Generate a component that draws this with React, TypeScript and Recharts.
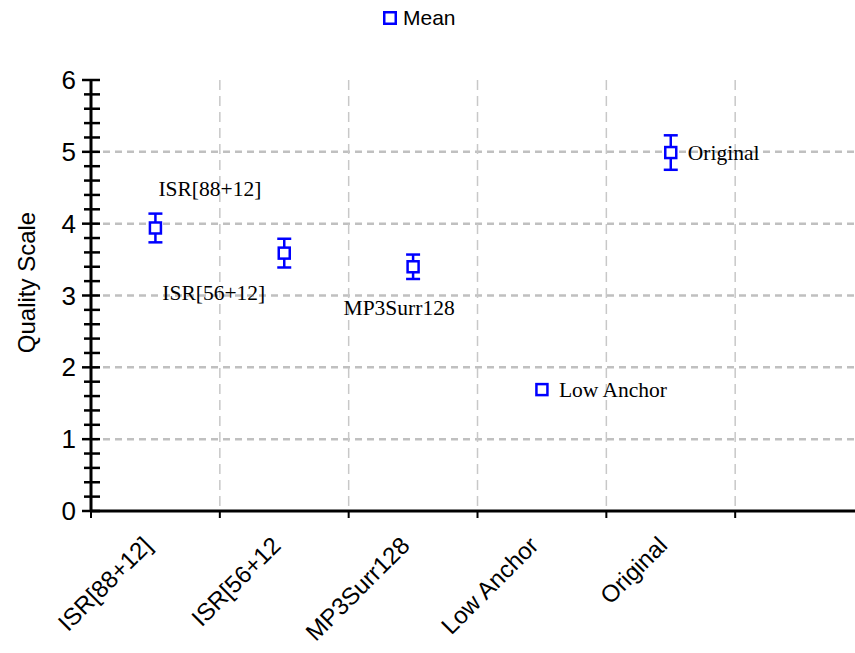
import React from 'react';
import { ScatterChart, Scatter, XAxis, YAxis, CartesianGrid, ErrorBar } from 'recharts';

const categories = ['ISR[88+12]', 'ISR[56+12', 'MP3Surr128', 'Low Anchor', 'Original'];
const pointLabels = ['ISR[88+12]', 'ISR[56+12]', 'MP3Surr128', 'Low Anchor', 'Original'];
const means = [3.94, 3.59, 3.4, 1.69, 4.99];
const errors = [0.2, 0.2, 0.17, 0, 0.24];
const labelPlacement = ['above', 'belowLeft', 'below', 'right', 'right'];

// major ticks on integers, minor every 0.2
const yTicks = [
  0, 0.2, 0.4, 0.6, 0.8, 1, 1.2, 1.4, 1.6, 1.8, 2, 2.2, 2.4, 2.6, 2.8, 3,
  3.2, 3.4, 3.6, 3.8, 4, 4.2, 4.4, 4.6, 4.8, 5, 5.2, 5.4, 5.6, 5.8, 6,
];
// tick marks on integers, category names at the half positions
const xTicks = [0, 0.5, 1, 1.5, 2, 2.5, 3, 3.5, 4, 4.5, 5];
const gridValues = [1, 2, 3, 4, 5];

const BLUE = '#0000ff';
const SANS = 'Arial, "Liberation Sans", sans-serif';
const SERIF = '"Times New Roman", "Liberation Serif", serif';

const data = categories.map((name, i) => ({
  name,
  label: pointLabels[i],
  place: labelPlacement[i],
  pos: i + 0.5,
  mean: means[i],
  err: errors[i],
}));

const labelOffsets: Record<string, { dx: number; dy: number; anchor: 'start' | 'middle' | 'end' }> = {
  above: { dx: 3, dy: -32, anchor: 'start' },
  belowLeft: { dx: -19, dy: 47, anchor: 'end' },
  below: { dx: -14, dy: 48, anchor: 'middle' },
  right: { dx: 17, dy: 7, anchor: 'start' },
};

const MeanBox = (props: any) => {
  const { cx, cy, payload } = props;
  const o = labelOffsets[payload.place];
  return (
    <g>
      <rect x={cx - 5.5} y={cy - 5.5} width={11} height={11} fill="#fff" stroke={BLUE} strokeWidth={2.5} />
      <text x={cx + o.dx} y={cy + o.dy} textAnchor={o.anchor} fontFamily={SERIF} fontSize={21.5} fill="#000">
        {payload.label}
      </text>
    </g>
  );
};

const YTick = (props: any) => {
  const { x, y, payload } = props;
  const major = Number.isInteger(payload.value);
  return (
    <g>
      <line x1={x - (major ? 9 : 7)} x2={x + 9} y1={y} y2={y} stroke="#000" strokeWidth={2.5} />
      {major && (
        <text x={x - 15} y={y} dy={9} textAnchor="end" fontFamily={SANS} fontSize={26} fill="#000">
          {payload.value}
        </text>
      )}
    </g>
  );
};

const XTick = (props: any) => {
  const { x, y, payload } = props;
  if (Number.isInteger(payload.value)) {
    return <line x1={x} x2={x} y1={y} y2={y + 7} stroke="#000" strokeWidth={2} />;
  }
  return (
    <g transform={`translate(${x - 2},${y + 36})`}>
      <text transform="rotate(-45)" textAnchor="end" fontFamily={SANS} fontSize={24} fill="#000">
        {categories[Math.floor(payload.value)]}
      </text>
    </g>
  );
};

const YTitle = (props: any) => {
  const { viewBox } = props;
  const x = viewBox.x + 27;
  const y = viewBox.y + viewBox.height / 2 - 13;
  return (
    <text x={x} y={y} transform={`rotate(-90, ${x}, ${y})`} textAnchor="middle" dy={8} fontFamily={SANS} fontSize={24} fill="#000">
      Quality Scale
    </text>
  );
};

const App: React.FC = () => {
  return (
    <div style={{ position: 'fixed', top: 0, left: 0, width: 855, height: 653, overflow: 'hidden', background: '#fff' }}>
      <div style={{ position: 'absolute', top: 6, left: 383, display: 'flex', alignItems: 'center', fontFamily: SANS, fontSize: 21, zIndex: 2 }}>
        <svg width={14} height={14} style={{ marginRight: 6 }}>
          <rect x={1.25} y={1.25} width={11.5} height={11.5} fill="#fff" stroke={BLUE} strokeWidth={2.5} />
        </svg>
        <span>Mean</span>
      </div>
      <ScatterChart width={855} height={653} margin={{ top: 80, right: 0, bottom: 0, left: 0 }}>
        <CartesianGrid horizontal vertical={false} horizontalValues={gridValues} stroke="#c0c0c0" strokeWidth={2.5} strokeDasharray="7 5" />
        <CartesianGrid horizontal={false} vertical verticalValues={gridValues} stroke="#c8c8c8" strokeWidth={1.5} strokeDasharray="10 6" />
        <XAxis
          type="number"
          dataKey="pos"
          domain={[0, 5.93]}
          ticks={xTicks}
          interval={0}
          tick={<XTick />}
          tickSize={0}
          tickMargin={0}
          tickLine={false}
          height={142}
          axisLine={{ stroke: '#000', strokeWidth: 3 }}
          allowDataOverflow
        />
        <YAxis
          type="number"
          dataKey="mean"
          domain={[0, 6]}
          ticks={yTicks}
          interval={0}
          width={91}
          tickSize={0}
          tickMargin={0}
          tick={<YTick />}
          tickLine={false}
          axisLine={{ stroke: '#000', strokeWidth: 3 }}
          label={<YTitle />}
        />
        <Scatter name="Mean" data={data} shape={<MeanBox />} isAnimationActive={false}>
          <ErrorBar dataKey="err" direction="y" width={7} stroke={BLUE} strokeWidth={2.5} isAnimationActive={false} />
        </Scatter>
      </ScatterChart>
    </div>
  );
};

export default App;
